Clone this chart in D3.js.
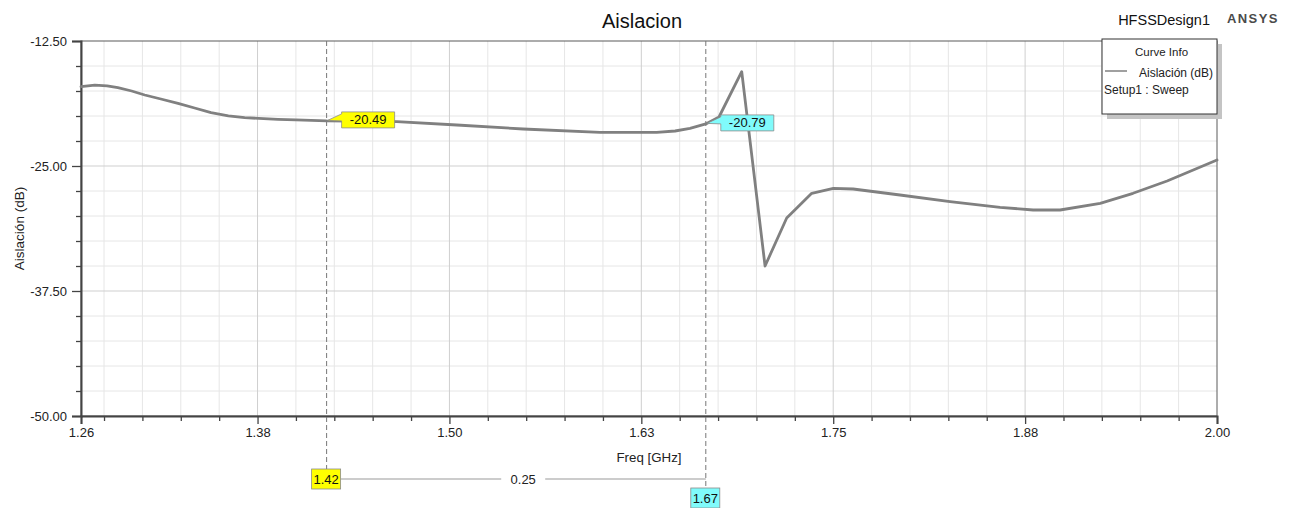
<!DOCTYPE html>
<html>
<head>
<meta charset="utf-8">
<script src="https://cdn.jsdelivr.net/npm/d3@7"></script>
<style>
  html, body { margin: 0; padding: 0; background: #fff; }
  svg { display: block; font-family: "Liberation Sans", Arial, sans-serif; }
</style>
</head>
<body>
<svg id="chart" width="1293" height="508"></svg>
<script>
// ---------------- data ----------------
const freq = [1.260, 1.269, 1.277, 1.284, 1.293, 1.3015, 1.312, 1.3232, 1.334, 1.3447, 1.356, 1.3666,
  1.3883, 1.400, 1.420, 1.4657, 1.5048, 1.548, 1.5981, 1.635, 1.647, 1.6567, 1.667, 1.6756,
  1.6904, 1.7056, 1.7197, 1.736, 1.7501, 1.763, 1.7935, 1.8261, 1.8587, 1.8802, 1.8978,
  1.9239, 1.9453, 1.9675, 2.000];
const isolation = [-17.07, -16.92, -16.98, -17.17, -17.5, -17.9, -18.3, -18.73, -19.2, -19.67, -19.98, -20.17,
  -20.33, -20.38, -20.49, -20.57, -20.9, -21.3, -21.63, -21.63, -21.5, -21.23, -20.79, -20.1,
  -15.57, -35.0, -30.2, -27.73, -27.23, -27.3, -27.9, -28.57, -29.13, -29.4, -29.4,
  -28.73, -27.73, -26.5, -24.4];

const xDomain = [1.26, 2.0];
const yDomain = [-50, -12.5];
const xMajorTicks = [1.26, 1.375, 1.5, 1.625, 1.75, 1.875, 2.0];
const xMajorLabels = ["1.26", "1.38", "1.50", "1.63", "1.75", "1.88", "2.00"];
const xMinorStep = 0.025;
const yMajorTicks = [-12.5, -25, -37.5, -50];
const yMajorLabels = ["-12.50", "-25.00", "-37.50", "-50.00"];
const yMinorStep = 2.5;

const markerNames = ["m1", "m2"];
const markerFreq = [1.42, 1.667];
const markerValue = [-20.49, -20.79];
const markerValueLabels = ["-20.49", "-20.79"];
const markerFreqLabels = ["1.42", "1.67"];
const markerColors = ["#ffff00", "#80fbfb"];
const deltaLabel = "0.25";

const titleText = "Aislacion";
const designText = "HFSSDesign1";
const brandText = "ANSYS";
const xTitle = "Freq [GHz]";
const yTitle = "Aislación (dB)";
const legendTitle = "Curve Info";
const legendSeries = "Aislación (dB)";
const legendSetup = "Setup1 : Sweep";

// ---------------- layout ----------------
const L = 81, R = 1217, T = 41, B = 416;
const svg = d3.select("#chart");
const x = d3.scaleLinear().domain(xDomain).range([L, R]);
const y = d3.scaleLinear().domain(yDomain).range([B, T]);

const xMinor = d3.range(1.275, 2.0 - 1e-9, xMinorStep).filter(v => !xMajorTicks.some(t => Math.abs(t - v) < 1e-6));
const yMinor = d3.range(-50, -12.5 + 1e-9, yMinorStep).filter(v => !yMajorTicks.some(t => Math.abs(t - v) < 1e-6));

// grid
const grid = svg.append("g");
grid.selectAll(".vmin").data(xMinor).join("line")
  .attr("x1", d => x(d)).attr("x2", d => x(d)).attr("y1", T).attr("y2", B)
  .attr("stroke", "#e6e6e6").attr("stroke-width", 1);
grid.selectAll(".hmin").data(yMinor).join("line")
  .attr("x1", L).attr("x2", R).attr("y1", d => y(d)).attr("y2", d => y(d))
  .attr("stroke", "#e6e6e6").attr("stroke-width", 1);
grid.selectAll(".vmaj").data(xMajorTicks.slice(1, -1)).join("line")
  .attr("x1", d => x(d)).attr("x2", d => x(d)).attr("y1", T).attr("y2", B)
  .attr("stroke", "#cfcfcf").attr("stroke-width", 1);
grid.selectAll(".hmaj").data(yMajorTicks.slice(1, -1)).join("line")
  .attr("x1", L).attr("x2", R).attr("y1", d => y(d)).attr("y2", d => y(d))
  .attr("stroke", "#cfcfcf").attr("stroke-width", 1);

// frame
svg.append("rect").attr("x", L).attr("y", T).attr("width", R - L).attr("height", B - T)
  .attr("fill", "none").attr("stroke", "#5a5a5a").attr("stroke-width", 1);

// axes via d3
const xAxisMaj = d3.axisBottom(x).tickValues(xMajorTicks).tickSize(8).tickPadding(4)
  .tickFormat((d, i) => xMajorLabels[i]);
const gx = svg.append("g").attr("transform", `translate(0,${B})`).call(xAxisMaj);
gx.select(".domain").attr("stroke", "#444").attr("stroke-width", 2);
gx.selectAll(".tick line").attr("stroke", "#444").attr("stroke-width", 1.3);
gx.selectAll(".tick text").attr("font-size", "13px").attr("fill", "#222")
  .attr("font-family", "Liberation Sans, Arial, sans-serif");
const gxm = svg.append("g").attr("transform", `translate(0,${B})`)
  .call(d3.axisBottom(x).tickValues(xMinor).tickSize(5).tickFormat(""));
gxm.select(".domain").remove();
gxm.selectAll(".tick line").attr("stroke", "#444").attr("stroke-width", 1.3);

const yAxisMaj = d3.axisLeft(y).tickValues(yMajorTicks).tickSize(9).tickPadding(5)
  .tickFormat((d, i) => yMajorLabels[i]);
const gy = svg.append("g").attr("transform", `translate(${L},0)`).call(yAxisMaj);
gy.select(".domain").attr("stroke", "#444").attr("stroke-width", 2);
gy.selectAll(".tick line").attr("stroke", "#444").attr("stroke-width", 1.3);
gy.selectAll(".tick text").attr("font-size", "13px").attr("fill", "#222")
  .attr("font-family", "Liberation Sans, Arial, sans-serif");
const gym = svg.append("g").attr("transform", `translate(${L},0)`)
  .call(d3.axisLeft(y).tickValues(yMinor).tickSize(5).tickFormat(""));
gym.select(".domain").remove();
gym.selectAll(".tick line").attr("stroke", "#444").attr("stroke-width", 1.3);

// axis titles
svg.append("text").attr("x", 649).attr("y", 462).attr("text-anchor", "middle")
  .attr("font-size", "13.3px").attr("fill", "#222").text(xTitle);
svg.append("text").attr("transform", `translate(24,${(T + B) / 2}) rotate(-90)`)
  .attr("text-anchor", "middle").attr("font-size", "13.5px").attr("fill", "#222").text(yTitle);

// titles
svg.append("text").attr("x", 642).attr("y", 28).attr("text-anchor", "middle")
  .attr("font-size", "20px").attr("fill", "#111").text(titleText);
svg.append("text").attr("x", 1210).attr("y", 25).attr("text-anchor", "end")
  .attr("font-size", "14.5px").attr("fill", "#111").text(designText);
svg.append("text").attr("x", 1227).attr("y", 23).attr("text-anchor", "start")
  .attr("font-size", "13px").attr("font-weight", "bold").attr("letter-spacing", "1.4px")
  .attr("fill", "#4a4a4a").text(brandText);

// marker dashed lines (from plot top to bottom boxes)
const markerBoxTop = [469, 488];
svg.selectAll(".mline").data(markerFreq).join("line")
  .attr("x1", d => x(d)).attr("x2", d => x(d)).attr("y1", T).attr("y2", (d, i) => markerBoxTop[i])
  .attr("stroke", "#777").attr("stroke-width", 1).attr("stroke-dasharray", "5,3");

// curve
const line = d3.line().x((d, i) => x(freq[i])).y((d, i) => y(isolation[i])).curve(d3.curveLinear);
svg.append("path").datum(isolation).attr("d", line)
  .attr("fill", "none").attr("stroke", "#808080").attr("stroke-width", 2.8)
  .attr("stroke-linejoin", "round").attr("stroke-linecap", "round");

// marker callouts
markerFreq.forEach((f, i) => {
  const px = x(f), py = y(markerValue[i]);
  const bx = px + 15, by = py - 9, bw = 53, bh = 16;
  const p = `M${px + 1},${py - 0.5} L${bx},${by + 2} L${bx},${by} L${bx + bw},${by} L${bx + bw},${by + bh} L${bx},${by + bh} L${bx},${by + 9} Z`;
  svg.append("path").attr("d", p).attr("fill", markerColors[i]).attr("stroke", "#8a8a8a").attr("stroke-width", 0.8);
  svg.append("text").attr("x", bx + bw / 2).attr("y", by + bh / 2 + 4.5).attr("text-anchor", "middle")
    .attr("font-size", "13px").attr("fill", "#111").text(markerValueLabels[i]);
});

// bottom marker freq boxes + delta line
const bxs = markerFreq.map(f => x(f));
const deltaY = 479;
svg.append("line").attr("x1", bxs[0] + 14).attr("x2", bxs[1]).attr("y1", deltaY).attr("y2", deltaY)
  .attr("stroke", "#999").attr("stroke-width", 1);
const midX = (bxs[0] + 14 + bxs[1]) / 2;
svg.append("rect").attr("x", midX - 22).attr("y", deltaY - 8).attr("width", 44).attr("height", 16).attr("fill", "#fff");
svg.append("text").attr("x", midX).attr("y", deltaY + 4.5).attr("text-anchor", "middle")
  .attr("font-size", "13px").attr("fill", "#222").text(deltaLabel);
markerFreq.forEach((f, i) => {
  const cx = x(f);
  svg.append("rect").attr("x", cx - 15).attr("y", markerBoxTop[i]).attr("width", 29).attr("height", 20)
    .attr("fill", markerColors[i]).attr("stroke", "#8a8a8a").attr("stroke-width", 0.8);
  svg.append("text").attr("x", cx - 0.5).attr("y", markerBoxTop[i] + 15).attr("text-anchor", "middle")
    .attr("font-size", "13px").attr("fill", "#111").text(markerFreqLabels[i]);
});

// legend
const lgX = 1102, lgY = 39, lgW = 115, lgH = 75;
svg.append("rect").attr("x", lgX + 5).attr("y", lgY + 5).attr("width", lgW).attr("height", lgH).attr("fill", "#c4c4c4");
svg.append("rect").attr("x", lgX).attr("y", lgY).attr("width", lgW).attr("height", lgH)
  .attr("fill", "#fff").attr("stroke", "#333").attr("stroke-width", 1);
svg.append("text").attr("x", lgX + lgW / 2 + 2).attr("y", lgY + 17).attr("text-anchor", "middle")
  .attr("font-size", "11.5px").attr("fill", "#222").text(legendTitle);
svg.append("line").attr("x1", lgX + 3).attr("x2", lgX + 25).attr("y1", lgY + 32).attr("y2", lgY + 32)
  .attr("stroke", "#808080").attr("stroke-width", 1.5);
svg.append("text").attr("x", lgX + 37).attr("y", lgY + 38).attr("font-size", "12px").attr("fill", "#222").text(legendSeries);
svg.append("text").attr("x", lgX + 2).attr("y", lgY + 55).attr("font-size", "12px").attr("fill", "#222").text(legendSetup);
</script>
</body>
</html>
